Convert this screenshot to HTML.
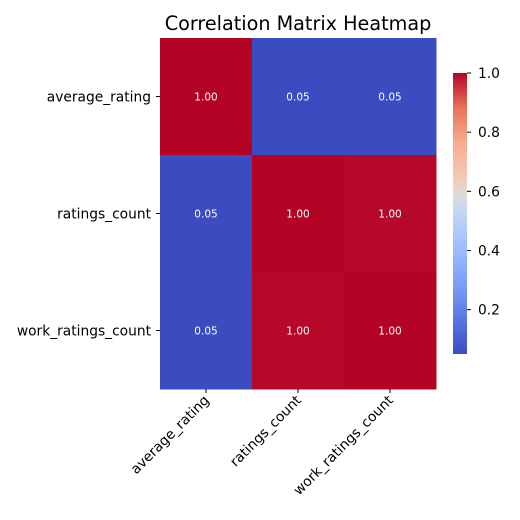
<!DOCTYPE html>
<html><head><meta charset="utf-8"><style>
body{margin:0;background:#fff;}
svg{display:block;font-family:"DejaVu Sans","Liberation Sans",sans-serif;}
</style></head><body>
<svg id="chart" width="520" height="520" viewBox="0 0 520 520">
<defs><linearGradient id="cw" x1="0" y1="1" x2="0" y2="0">
<stop offset="0" stop-color="#3b4cc0"/><stop offset="0.125" stop-color="#5977e3"/>
<stop offset="0.25" stop-color="#7b9ff9"/><stop offset="0.375" stop-color="#9ebeff"/>
<stop offset="0.5" stop-color="#c0d4f5"/><stop offset="0.5625" stop-color="#dddcdc"/>
<stop offset="0.625" stop-color="#f2cbb7"/><stop offset="0.75" stop-color="#f7ac8e"/>
<stop offset="0.875" stop-color="#e7745b"/><stop offset="1" stop-color="#b40426"/>
</linearGradient></defs>
<text x="298" y="30" text-anchor="middle" font-size="19.2">Correlation Matrix Heatmap</text>
<g id="cells"></g>
<g id="labels"></g>
<rect x="453" y="73" width="14" height="281" fill="url(#cw)"/>
<g id="cbar"></g>
</svg>
<script>
const categories=["average_rating","ratings_count","work_ratings_count"];
const row0=[1.00,0.05,0.05];
const row1=[0.05,1.00,0.996];
const row2=[0.05,0.996,1.00];
const cbTicks=[0.2,0.4,0.6,0.8,1.0];
const vmin=0.05, vmax=1.0;
const rows=[row0,row1,row2];
const NS="http://www.w3.org/2000/svg";
const X0=160,X1=436,Y0=38,Y1=389;
const cw=(X1-X0)/3, ch=(Y1-Y0)/3;
const stops=[[0,[59,76,192]],[0.125,[89,119,227]],[0.25,[123,159,249]],[0.375,[158,190,255]],[0.5,[192,212,245]],[0.5625,[221,220,220]],[0.625,[242,203,183]],[0.75,[247,172,142]],[0.875,[231,116,91]],[1,[180,4,38]]];
function color(v){let t=(v-vmin)/(vmax-vmin);t=Math.max(0,Math.min(1,t));
for(let i=1;i<stops.length;i++){if(t<=stops[i][0]){const a=stops[i-1],b=stops[i],f=(t-a[0])/(b[0]-a[0]);
const c=a[1].map((x,k)=>Math.round(x+(b[1][k]-x)*f));return `rgb(${c})`;}}return "rgb(180,4,38)";}
function el(tag,attrs,parent){const e=document.createElementNS(NS,tag);for(const k in attrs)e.setAttribute(k,attrs[k]);parent.appendChild(e);return e;}
const cells=document.getElementById('cells'),labels=document.getElementById('labels'),cbar=document.getElementById('cbar');
rows.forEach((r,i)=>r.forEach((v,j)=>{
const rc=el('rect',{x:X0+j*cw,y:Y0+i*ch,width:cw+0.5,height:ch+0.5,fill:color(v)},cells);


const t=el('text',{x:X0+(j+0.5)*cw,y:Y0+(i+0.5)*ch+4,'text-anchor':'middle','font-size':'10.5',fill:'#fff'},cells);
t.textContent=v.toFixed(2);


}));
categories.forEach((c,i)=>{
const y=Y0+(i+0.5)*ch;
el('line',{x1:X0-4,x2:X0,y1:y,y2:y,stroke:'#000'},labels);
const t=el('text',{x:X0-9,y:y+5,'text-anchor':'end','font-size':'13.8'},labels);
t.textContent=c;


const x=X0+(i+0.5)*cw;
el('line',{x1:x,x2:x,y1:Y1,y2:Y1+4,stroke:'#000'},labels);
const tx=el('text',{x:x+4,y:Y1+12,'text-anchor':'end','font-size':'13.8',transform:`rotate(-45 ${x+4} ${Y1+12})`},labels);
tx.textContent=c;


});
const CB0=354,CB1=73;
cbTicks.forEach(v=>{
const y=CB0-(v-vmin)/(vmax-vmin)*(CB0-CB1);
el('line',{x1:467,x2:471,y1:y,y2:y,stroke:'#000'},cbar);
const t=el('text',{x:478,y:y+5,'font-size':'13.8'},cbar);
t.textContent=v.toFixed(1);


});
</script>
</body></html>
